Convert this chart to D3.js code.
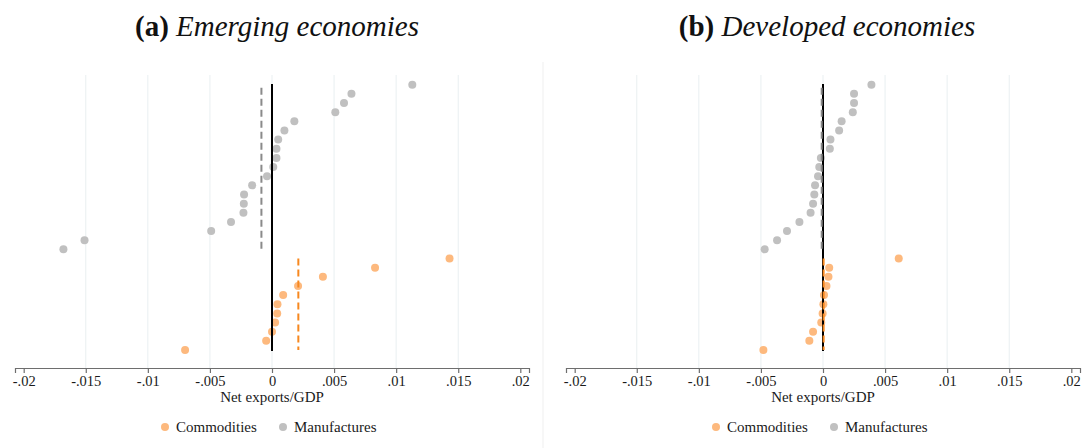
<!DOCTYPE html>
<html>
<head>
<meta charset="utf-8">
<script src="https://cdn.jsdelivr.net/npm/d3@7/dist/d3.min.js"></script>
<style>
  body { margin: 0; background: #fff; }
  svg { display: block; font-family: "Liberation Serif", "DejaVu Serif", serif; }
</style>
</head>
<body>
<div id="chart"></div>
<script>
// Net exports / GDP, rows from top to bottom
const emergingManuf = [0.0113, 0.0064, 0.0058, 0.0051, 0.0018, 0.0010, 0.0005, 0.00036, 0.00036, 0.0001,
  -0.0004, -0.0016, -0.00225, -0.00227, -0.0023, -0.0033, -0.0049, -0.0151, -0.0168];
const emergingComm = [0.0143, 0.0083, 0.0041, 0.0021, 0.0009, 0.00044, 0.00042, 0.00025, 0.0, -0.00047, -0.0070];
const developedManuf = [0.0039, 0.0025, 0.0025, 0.0024, 0.0015, 0.0013, 0.0006, 0.00055, -0.00017, -0.0003,
  -0.0004, -0.00064, -0.0007, -0.0008, -0.001, -0.0019, -0.0029, -0.0037, -0.0047];
const developedComm = [0.0061, 0.0005, 0.00044, 0.00028, 0.00008, 0.00003, -0.00003, -0.00014, -0.0008, -0.0011, -0.0048];

const tickValues = [-0.02, -0.015, -0.01, -0.005, 0, 0.005, 0.01, 0.015, 0.02];
const tickLabels = ['-.02', '-.015', '-.01', '-.005', '0', '.005', '.01', '.015', '.02'];
const seriesNames = ['Commodities', 'Manufactures'];

const width = 1083, height = 448;
const colors = { comm: '#fdb97e', manuf: '#c0c0c0', commLine: '#f7881f', manufLine: '#8a8a8a' };

const svg = d3.select('#chart').append('svg')
  .attr('width', width)
  .attr('height', height);

svg.append('rect').attr('width', width).attr('height', height).attr('fill', '#fff');

// faint divider between the two panels
svg.append('line')
  .attr('x1', 543).attr('x2', 543).attr('y1', 62).attr('y2', height)
  .attr('stroke', '#efefef').attr('stroke-width', 1);

const panels = [
  { tag: '(a)', title: 'Emerging economies', manuf: emergingManuf, comm: emergingComm, x0: 15, x1: 529, titleX: 277, legendX: 165 },
  { tag: '(b)', title: 'Developed economies', manuf: developedManuf, comm: developedComm, x0: 566, x1: 1080, titleX: 827, legendX: 716 }
];

const plotTop = 75, axisY = 368;

panels.forEach(p => {
  const g = svg.append('g');
  const nRows = p.manuf.length + p.comm.length;

  const x = d3.scaleLinear().domain([-0.0207, 0.0207]).range([p.x0, p.x1]);
  const y = d3.scaleLinear().domain([0, nRows - 1]).range([84.7, 350]);

  // title
  const t = g.append('text')
    .attr('x', p.titleX).attr('y', 36)
    .attr('text-anchor', 'middle')
    .attr('font-size', 29)
    .attr('fill', '#111');
  t.append('tspan').attr('font-weight', 'bold').text(p.tag + ' ');
  t.append('tspan').attr('font-style', 'italic').text(p.title);

  // gridlines (inner ticks only)
  g.selectAll('.grid')
    .data(tickValues.slice(1, -1))
    .enter().append('line')
    .attr('x1', d => x(d)).attr('x2', d => x(d))
    .attr('y1', plotTop).attr('y2', axisY)
    .attr('stroke', '#e9eff1').attr('stroke-width', 1);

  // axis
  const axis = d3.axisBottom(x)
    .tickValues(tickValues)
    .tickFormat((d, i) => tickLabels[i])
    .tickSizeOuter(0)
    .tickSize(5)
    .tickPadding(3);
  const ax = g.append('g')
    .attr('transform', `translate(0,${axisY})`)
    .call(axis);
  ax.select('.domain').attr('stroke', '#6e6e6e').attr('stroke-width', 1.2);
  ax.selectAll('.tick line').attr('stroke', '#6e6e6e').attr('stroke-width', 1.2);
  ax.selectAll('.tick text')
    .attr('font-family', '"Liberation Serif", serif')
    .attr('font-size', 14.5)
    .attr('fill', '#1a1a1a');

  g.append('text')
    .attr('x', x(0)).attr('y', 402)
    .attr('text-anchor', 'middle')
    .attr('font-size', 15)
    .attr('fill', '#1a1a1a')
    .text('Net exports/GDP');

  // dots
  g.selectAll('.manuf')
    .data(p.manuf)
    .enter().append('circle')
    .attr('cx', d => x(d))
    .attr('cy', (d, i) => y(i))
    .attr('r', 4)
    .attr('fill', colors.manuf);

  g.selectAll('.comm')
    .data(p.comm)
    .enter().append('circle')
    .attr('cx', d => x(d))
    .attr('cy', (d, i) => y(p.manuf.length + i))
    .attr('r', 4)
    .attr('fill', colors.comm);

  // zero line
  g.append('line')
    .attr('x1', x(0)).attr('x2', x(0))
    .attr('y1', y(0) - 0.7).attr('y2', y(nRows - 1) + 1)
    .attr('stroke', '#000').attr('stroke-width', 2);

  // group means
  const mManuf = d3.mean(p.manuf), mComm = d3.mean(p.comm);
  g.append('line')
    .attr('x1', x(mManuf)).attr('x2', x(mManuf))
    .attr('y1', y(0) + 3).attr('y2', y(p.manuf.length - 1))
    .attr('stroke', colors.manufLine).attr('stroke-width', 2)
    .attr('stroke-dasharray', '7,4');
  g.append('line')
    .attr('x1', x(mComm)).attr('x2', x(mComm))
    .attr('y1', y(p.manuf.length)).attr('y2', y(nRows - 1))
    .attr('stroke', colors.commLine).attr('stroke-width', 2)
    .attr('stroke-dasharray', '7,4');

  // legend
  const lg = g.append('g').attr('transform', `translate(${p.legendX},427)`);
  [colors.comm, colors.manuf].forEach((c, i) => {
    const ox = i * 118;
    lg.append('circle').attr('cx', ox).attr('cy', 0).attr('r', 4).attr('fill', c);
    lg.append('text')
      .attr('x', ox + 11).attr('y', 5)
      .attr('font-size', 15)
      .attr('fill', '#1a1a1a')
      .text(seriesNames[i]);
  });
});
</script>
</body>
</html>
